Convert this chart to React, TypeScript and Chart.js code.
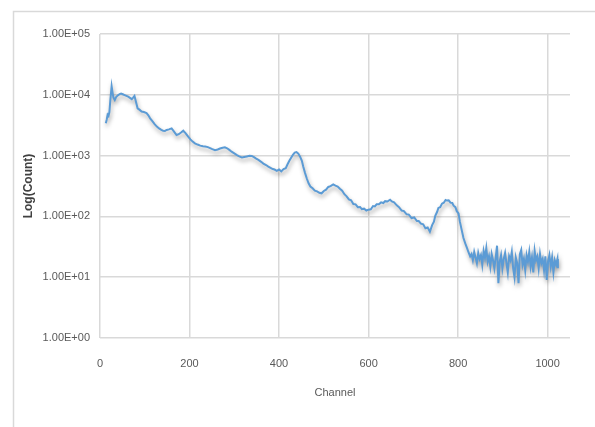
import React, { useEffect, useRef } from "react";
import { Chart, registerables } from "chart.js";

Chart.register(...registerables);

const channels: number[] = [
  13, 15, 17, 19, 21, 23, 26, 28, 30, 33, 36, 40, 44, 47, 51, 55, 59, 63, 67, 71,
  74, 77, 80, 84, 88, 93, 98, 104, 108, 112, 117, 122, 127, 132, 137, 141, 145, 149, 154, 160,
  165, 171, 176, 181, 186, 191, 197, 202, 207, 212, 218, 224, 230, 235, 241, 246, 251, 257, 263, 268,
  274, 279, 284, 289, 294, 300, 306, 311, 317, 322, 328, 334, 339, 344, 349, 354, 360, 365, 371, 376,
  381, 386, 390, 395, 400, 405, 410, 415, 419, 423, 427, 431, 435, 439, 443, 447, 451, 454, 458, 462,
  466, 470, 475, 480, 485, 490, 495, 500, 505, 510, 515, 521, 526, 531, 536, 541, 546, 551, 556, 561,
  566, 571, 576, 581, 585, 590, 595, 600, 605, 610, 614, 618, 623, 628, 633, 637, 642, 648, 652, 657,
  663, 668, 674, 679, 685, 690, 696, 702, 708, 712, 717, 722, 727, 732, 737, 742, 746, 749, 753, 756,
  760, 764, 768, 772, 775, 779, 783, 787, 790, 794, 797, 801, 804, 808, 812, 816, 820, 823, 827,
  830, 833, 836, 839, 842, 845, 848, 851, 854, 857, 860, 863, 866, 869, 872, 875, 878, 881, 884, 887,
  890, 893, 896, 899, 902, 905, 908, 911, 914, 917, 920, 923, 926, 929, 932, 935, 938, 941, 944, 947,
  950, 953, 956, 959, 962, 965, 968, 971, 974, 977, 980, 983, 986, 989, 992, 995, 998, 1001, 1004, 1007,
  1010, 1013, 1016, 1019, 1022, 1023,
];

const counts: number[] = [
  3400, 3900, 4700, 4500, 5200, 8000, 13800, 11000, 9000, 8200, 9200, 9800, 10300, 10500, 10200, 9900, 9600, 9300, 8900, 8500,
  9000, 9600, 7800, 6000, 5700, 5300, 5200, 5000, 4600, 4100, 3700, 3300, 3000, 2800, 2650, 2570, 2550, 2640, 2700, 2800,
  2500, 2180, 2250, 2400, 2570, 2350, 2050, 1850, 1700, 1590, 1520, 1460, 1430, 1410, 1380, 1330, 1280, 1230, 1260, 1310,
  1350, 1370, 1320, 1240, 1160, 1090, 1020, 970, 935, 950, 970, 990, 985, 940, 890, 850, 790, 740, 700, 660,
  630, 600, 590, 560, 590, 550, 600, 620, 720, 820, 920, 1030, 1120, 1140, 1080, 960, 820, 660, 520, 420,
  350, 310, 290, 265, 258, 245, 240, 262, 275, 305, 315, 335, 320, 310, 285, 265, 232, 214, 190, 184,
  160, 158, 142, 143, 132, 134, 125, 129, 131, 148, 146, 158, 158, 170, 166, 178, 176, 188, 176, 170,
  152, 142, 125, 122, 108, 107, 94, 96, 84, 84, 76, 74, 64, 66, 56, 72, 82, 102, 118, 138,
  142, 162, 168, 186, 182, 184, 168, 166, 150, 142, 122, 112, 82, 60, 44, 36, 30, 26, 22,
  24, 19, 26, 21, 17, 25, 20, 23, 16, 27, 21, 30, 18, 22, 15, 24, 19, 14, 21, 33,
  8, 18, 23, 14, 20, 25, 17, 12, 22, 19, 26, 14, 10, 21, 17, 8, 24, 28, 16, 20,
  13, 23, 18, 26, 15, 21, 12, 27, 19, 22, 14, 24, 17, 20, 13, 22, 9, 18, 23, 15,
  21, 12, 19, 16, 20, 14,
];

const xTickValues: number[] = [0, 200, 400, 600, 800, 1000];
const yTickValues: number[] = [1, 10, 100, 1000, 10000, 100000];

const FONT = "'Liberation Sans', Arial, sans-serif";

function fmtExp(v: number): string {
  const e = Math.round(Math.log10(v));
  const s = e < 10 ? "0" + e : String(e);
  return "1.00E+" + s;
}

const frame = {
  id: "frame",
  beforeDraw(chart: any) {
    const ctx = chart.ctx;
    ctx.save();
    ctx.strokeStyle = "#d9d9d9";
    ctx.lineWidth = 1.5;
    ctx.strokeRect(13.5, 11.5, 700, 600);
    ctx.restore();
  },
};

const shadow = {
  id: "shadow",
  beforeDatasetsDraw(chart: any) {
    const ctx = chart.ctx;
    ctx.save();
    ctx.shadowColor = "rgba(0,0,0,0.35)";
    ctx.shadowBlur = 4;
    ctx.shadowOffsetX = 1;
    ctx.shadowOffsetY = 3;
  },
  afterDatasetsDraw(chart: any) {
    chart.ctx.restore();
  },
};

export default function App() {
  const ref = useRef<HTMLCanvasElement | null>(null);

  useEffect(() => {
    if (!ref.current) return;
    const data = channels.map((c, i) => ({ x: c, y: counts[i] }));
    const chart = new Chart(ref.current, {
      type: "line",
      data: {
        datasets: [
          {
            data,
            borderColor: "#5B9BD5",
            borderWidth: 2,
            pointRadius: 0,
            tension: 0,
            fill: false,
          },
        ],
      },
      options: {
        animation: false,
        responsive: false,
        devicePixelRatio: 1,
        layout: { padding: { top: 34, right: 25, left: 0, bottom: 0 } },
        plugins: { legend: { display: false }, tooltip: { enabled: false } },
        scales: {
          x: {
            type: "linear",
            min: 0,
            max: 1050,
            afterBuildTicks: (s: any) => {
              s.ticks = xTickValues.map((v) => ({ value: v }));
            },
            afterFit: (s: any) => {
              s.height = 89;
            },
            grid: { color: "#d9d9d9", lineWidth: 1.5, drawTicks: false },
            border: { display: false },
            ticks: {
              padding: 19,
              color: "#595959",
              font: { family: FONT, size: 11 },
              maxRotation: 0,
              callback: (v: any) => String(v),
            },
            title: {
              display: true,
              text: "Channel",
              color: "#595959",
              font: { family: FONT, size: 11 },
              padding: { top: 0, bottom: 27 },
            },
          },
          y: {
            type: "logarithmic",
            min: 1,
            max: 100000,
            afterBuildTicks: (s: any) => {
              s.ticks = yTickValues.map((v) => ({ value: v }));
            },
            afterFit: (s: any) => {
              s.width = 100;
            },
            grid: { color: "#d9d9d9", lineWidth: 1.5, drawTicks: false },
            border: { display: false },
            ticks: {
              padding: 10,
              color: "#595959",
              font: { family: FONT, size: 11 },
              callback: (v: any) => fmtExp(Number(v)),
            },
            title: {
              display: true,
              text: "Log(Count)",
              color: "#404040",
              font: { family: FONT, size: 12, weight: "bold" },
              padding: { top: 21, bottom: 0 },
            },
          },
        },
      },
      plugins: [frame, shadow],
    });
    return () => chart.destroy();
  }, []);

  return (
    <div style={{ position: "fixed", left: 0, top: 0, width: 595, height: 427, background: "#fff" }}>
      <canvas ref={ref} width={595} height={427} style={{ width: 595, height: 427, display: "block" }} />
    </div>
  );
}
